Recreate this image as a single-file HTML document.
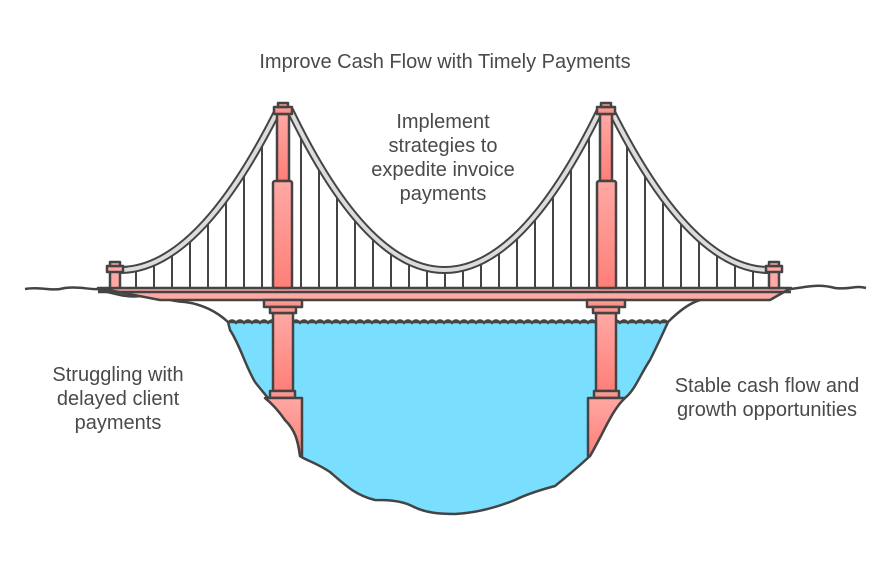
<!DOCTYPE html>
<html><head><meta charset="utf-8"><style>
html,body{margin:0;padding:0;background:#fff;}
svg{display:block;}
text{font-family:"Liberation Sans",sans-serif;fill:#4a4a4a;font-size:20px;text-anchor:middle;}
</style></head><body>
<svg width="890" height="565" viewBox="0 0 890 565" xmlns="http://www.w3.org/2000/svg">
<defs>
<linearGradient id="pk" x1="0" y1="0" x2="0" y2="1"><stop offset="0" stop-color="#ffa8a4"/><stop offset="1" stop-color="#ff7f78"/></linearGradient>
</defs>
<g stroke="#444" stroke-width="2.5" stroke-linejoin="round" fill="none">
<path d="M228,322 L668,322 C660,340 655,350 650,360 C640,375 635,390 625,398 C612,410 605,430 590,456 C575,470 565,478 555,486 C540,490 525,495 515,500 C495,508 475,513 455,514 C440,514 425,513 412,506 C400,500 385,500 375,500 C355,495 345,485 330,472 C315,462 305,460 300,456 C298,440 295,430 285,420 C275,405 265,395 255,382 C245,365 240,345 230,330 Z" fill="#7adfff"/>
<path d="M228,323 q4,-5 8,0 q4,-5 8,0 q4,-5 8,0 q4,-5 8,0 q4,-5 8,0 q4,-5 8,0 q4,-5 8,0 q4,-5 8,0 q4,-5 8,0 q4,-5 8,0 q4,-5 8,0 q4,-5 8,0 q4,-5 8,0 q4,-5 8,0 q4,-5 8,0 q4,-5 8,0 q4,-5 8,0 q4,-5 8,0 q4,-5 8,0 q4,-5 8,0 q4,-5 8,0 q4,-5 8,0 q4,-5 8,0 q4,-5 8,0 q4,-5 8,0 q4,-5 8,0 q4,-5 8,0 q4,-5 8,0 q4,-5 8,0 q4,-5 8,0 q4,-5 8,0 q4,-5 8,0 q4,-5 8,0 q4,-5 8,0 q4,-5 8,0 q4,-5 8,0 q4,-5 8,0 q4,-5 8,0 q4,-5 8,0 q4,-5 8,0 q4,-5 8,0 q4,-5 8,0 q4,-5 8,0 q4,-5 8,0 q4,-5 8,0 q4,-5 8,0 q4,-5 8,0 q4,-5 8,0 q4,-5 8,0 q4,-5 8,0 q4,-5 8,0 q4,-5 8,0 q4,-5 8,0 q4,-5 8,0 q4,-5 8,0"/>
<path d="M25,289 C40,286 50,292 65,288 C80,286 90,290 98,289"/>
<path d="M98,290 C115,293 125,298 140,296 C155,294 170,302 185,302 C200,304 215,310 228,322"/>
<path d="M791,289 C810,286 820,284 835,288 C850,290 855,285 866,288"/>
<path d="M791,289 C775,293 765,292 750,294 C730,296 720,297 700,300 C690,303 680,310 668,322"/>
<path d="M98,288 L791,288 L770,300 L160,300 Z" fill="#ffa8a4"/>
<line x1="98" y1="292" x2="791" y2="292"/>
<g stroke-width="2">
<line x1="136" y1="268" x2="136" y2="288"/><line x1="154" y1="262" x2="154" y2="288"/><line x1="172" y1="252" x2="172" y2="288"/><line x1="190" y1="238" x2="190" y2="288"/><line x1="208" y1="219" x2="208" y2="288"/><line x1="226" y1="197" x2="226" y2="288"/><line x1="244" y1="171" x2="244" y2="288"/><line x1="262" y1="140" x2="262" y2="288"/>
<line x1="753" y1="268" x2="753" y2="288"/><line x1="735" y1="262" x2="735" y2="288"/><line x1="717" y1="252" x2="717" y2="288"/><line x1="699" y1="238" x2="699" y2="288"/><line x1="681" y1="219" x2="681" y2="288"/><line x1="663" y1="197" x2="663" y2="288"/><line x1="645" y1="171" x2="645" y2="288"/><line x1="627" y1="140" x2="627" y2="288"/>
<line x1="301" y1="132" x2="301" y2="288"/><line x1="319" y1="164" x2="319" y2="288"/><line x1="337" y1="193" x2="337" y2="288"/><line x1="355" y1="216" x2="355" y2="288"/><line x1="373" y1="236" x2="373" y2="288"/><line x1="391" y1="251" x2="391" y2="288"/><line x1="409" y1="262" x2="409" y2="288"/><line x1="427" y1="268" x2="427" y2="288"/><line x1="445" y1="270" x2="445" y2="288"/><line x1="463" y1="268" x2="463" y2="288"/><line x1="481" y1="262" x2="481" y2="288"/><line x1="499" y1="251" x2="499" y2="288"/><line x1="517" y1="236" x2="517" y2="288"/><line x1="535" y1="216" x2="535" y2="288"/><line x1="553" y1="193" x2="553" y2="288"/><line x1="571" y1="164" x2="571" y2="288"/><line x1="589" y1="132" x2="589" y2="288"/>
</g>
<g stroke-width="8"><path d="M120,270 Q198,270 278,110"/><path d="M290,110 Q444,430 600,110"/><path d="M769,270 Q691,270 611,110"/></g>
<g stroke="#dcdcdc" stroke-width="4"><path d="M120,270 Q198,270 278,110"/><path d="M290,110 Q444,430 600,110"/><path d="M769,270 Q691,270 611,110"/></g>
<g fill="#ffa8a4"><rect x="110" y="271" width="10" height="17"/><rect x="107" y="266" width="16" height="6"/><rect x="110" y="262" width="10" height="4"/>
<rect x="769" y="271" width="10" height="17"/><rect x="766" y="266" width="16" height="6"/><rect x="769" y="262" width="10" height="4"/></g>
<g fill="url(#pk)">
<rect x="273" y="313" width="20" height="78"/><rect x="270" y="391" width="25" height="7"/><path d="M265,398 L302,398 L302,456 L300,456 C298,440 295,430 285,420 C278,410 270,402 265,398 Z"/>
<rect x="264" y="300" width="38" height="7"/><rect x="270" y="307" width="26" height="6"/>
<rect x="277" y="114" width="12" height="67"/><rect x="273" y="181" width="19" height="107" rx="2"/><rect x="274" y="107" width="18" height="7"/><rect x="278" y="103" width="10" height="4"/>
<rect x="596" y="313" width="20" height="78"/><rect x="594" y="391" width="25" height="7"/><path d="M588,398 L625,398 C612,410 605,430 590,456 L588,456 Z"/>
<rect x="587" y="300" width="38" height="7"/><rect x="593" y="307" width="26" height="6"/>
<rect x="600" y="114" width="12" height="67"/><rect x="597" y="181" width="19" height="107" rx="2"/><rect x="597" y="107" width="18" height="7"/><rect x="601" y="103" width="10" height="4"/>
</g>
</g>
<text x="445" y="68" font-size="20.5">Improve Cash Flow with Timely Payments</text>
<text x="443" y="128">Implement</text>
<text x="443" y="152">strategies to</text>
<text x="443" y="176">expedite invoice</text>
<text x="443" y="200">payments</text>
<text x="118" y="381">Struggling with</text>
<text x="118" y="405">delayed client</text>
<text x="118" y="429">payments</text>
<text x="767" y="392">Stable cash flow and</text>
<text x="767" y="416">growth opportunities</text>
</svg>
</body></html>
